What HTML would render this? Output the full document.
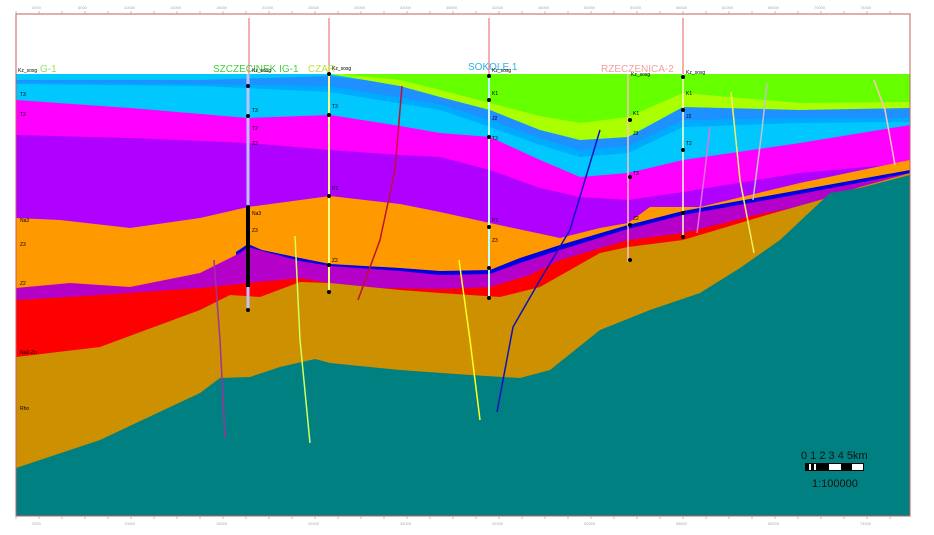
<!DOCTYPE html>
<html><head><meta charset="utf-8"><style>
html,body{margin:0;padding:0;background:#fff;}
svg{display:block;font-family:"Liberation Sans",sans-serif;}
</style></head><body>
<svg width="934" height="535" viewBox="0 0 934 535" xmlns="http://www.w3.org/2000/svg">
<rect width="934" height="535" fill="#fff"/>
<defs><clipPath id="c"><rect x="16" y="14" width="894" height="502"/></clipPath></defs>
<g clip-path="url(#c)">
<polygon fill="#00c8ff" points="16,74 910,74 910,516 16,516"/>
<!-- dark blue band -->
<polygon fill="#1e90ff" points="330,76 400,84 440,90 490,103 540,115 580,123 628,117 683,93 800,103 910,102 910,516 16,516 16,80 200,80"/>
<polygon fill="#00aaff" points="16,82 200,84 330,86 440,104 490,120 540,138 580,150 628,146 683,120 800,118 910,118 910,516 16,516"/>
<polygon fill="#00c8ff" points="16,84 200,86 330,92 440,110 490,127 540,145 580,157 628,153 683,127 800,123 910,122 910,516 16,516"/>
<!-- light green then green -->
<polygon fill="#aaff00" points="330,74 910,74 910,108 800,110 683,107 628,137 580,140 540,130 490,110 440,97 400,86"/>
<polygon fill="#66ff00" points="340,74 910,74 910,102 800,103 683,93 628,117 580,123 540,116 490,103 440,90 400,80"/>
<!-- magenta -->
<polygon fill="#ff00ff" points="16,100 130,108 248,118 330,115 400,126 440,133 490,137 540,160 580,177 628,173 683,160 800,143 910,125 910,516 16,516"/>
<!-- purple -->
<polygon fill="#b000ff" points="16,135 130,138 248,143 330,150 400,155 440,157 490,170 540,188 580,197 628,200 683,192 800,173 910,163 910,516 16,516"/>
<!-- orange -->
<polygon fill="#ff9900" points="16,218 60,220 130,228 200,218 248,207 330,196 400,204 440,212 490,223 560,238 600,228 628,223 650,207 700,207 800,183 910,160 910,516 16,516"/>
<!-- blue line -->
<polygon fill="#0000e0" points="236,252 248,244 262,250 300,258 330,264 400,268 440,271 490,270 520,258 560,245 628,225 683,211 800,190 910,170 910,516 236,516"/>
<!-- purple lower -->
<polygon fill="#b400c8" points="16,288 70,283 130,287 200,273 240,253 248,247 270,253 300,261 330,266 400,271 440,275 490,274 520,263 560,250 628,229 683,215 800,194 910,173 910,516 16,516"/>
<!-- red -->
<polygon fill="#ff0000" points="16,300 100,295 200,288 248,283 300,278 330,283 380,288 440,289 490,287 530,275 560,260 628,240 683,233 760,214 800,207 850,192 910,175 910,516 16,516"/>
<!-- ochre -->
<polygon fill="#cc9000" points="16,357 100,347 200,310 230,295 260,297 300,282 330,283 400,290 440,293 500,297 540,287 600,253 628,247 683,240 760,217 820,200 860,187 910,173 910,516 16,516"/>
<!-- teal -->
<polygon fill="#008080" points="16,468 100,440 200,393 220,378 250,377 280,367 315,359 330,363 400,370 470,375 520,378 550,370 600,330 650,310 700,293 740,268 780,240 830,193 860,188 910,175 910,516 16,516"/>
<!-- faults -->
<polyline fill="none" stroke="#c01030" stroke-width="1.5" points="358,300 380,240 395,170 402,86"/>
<polyline fill="none" stroke="#1010c0" stroke-width="1.5" points="497,412 513,327 540,280 570,230 600,130"/>
<polyline fill="none" stroke="#ffff20" stroke-width="1.5" points="480,420 470,340 459,260"/>
<polyline fill="none" stroke="#d0ff60" stroke-width="1.5" points="310,443 300,340 295,236"/>
<polyline fill="none" stroke="#a030a0" stroke-width="1.5" points="225,438 220,340 214,260"/>
<polyline fill="none" stroke="#f0f060" stroke-width="1.5" points="754,253 740,180 731,92"/>
<polyline fill="none" stroke="#c0c0d0" stroke-width="1.5" points="753,200 762,130 767,83"/>
<polyline fill="none" stroke="#e070e0" stroke-width="1.5" points="697,233 705,170 710,127"/>
<polyline fill="none" stroke="#ffc0c0" stroke-width="1.5" points="895,165 885,110 874,80"/>
</g>
<!-- wells -->
<g stroke-width="1">
<line x1="249" y1="18" x2="249" y2="74" stroke="#e06060"/>
<line x1="248" y1="74" x2="248" y2="310" stroke="#c0c0ff" stroke-width="3"/>
<line x1="329" y1="18" x2="329" y2="74" stroke="#e06060"/>
<line x1="329" y1="74" x2="329" y2="292" stroke="#ffff80" stroke-width="2"/>
<line x1="489" y1="18" x2="489" y2="74" stroke="#e06060"/>
<line x1="489" y1="74" x2="489" y2="300" stroke="#c0ffff" stroke-width="2"/>
<line x1="628" y1="74" x2="628" y2="262" stroke="#ffc0c0" stroke-width="1.5"/>
<line x1="683" y1="18" x2="683" y2="74" stroke="#e06060"/>
<line x1="683" y1="74" x2="683" y2="237" stroke="#ffffc0" stroke-width="1.5"/>
</g>
<g fill="#000">
<circle cx="248" cy="86" r="2"/><circle cx="248" cy="116" r="2"/><circle cx="248" cy="207" r="2"/><circle cx="248" cy="245" r="2"/><circle cx="248" cy="310" r="2"/>
<circle cx="329" cy="74" r="2"/><circle cx="329" cy="115" r="2"/><circle cx="329" cy="196" r="2"/><circle cx="329" cy="265" r="2"/><circle cx="329" cy="292" r="2"/>
<circle cx="489" cy="76" r="2"/><circle cx="489" cy="100" r="2"/><circle cx="489" cy="137" r="2"/><circle cx="489" cy="227" r="2"/><circle cx="489" cy="268" r="2"/><circle cx="489" cy="298" r="2"/>
<circle cx="630" cy="120" r="2"/><circle cx="630" cy="177" r="2"/><circle cx="630" cy="225" r="2"/><circle cx="630" cy="260" r="2"/>
<circle cx="683" cy="77" r="2"/><circle cx="683" cy="110" r="2"/><circle cx="683" cy="150" r="2"/><circle cx="683" cy="213" r="2"/><circle cx="683" cy="237" r="2"/>
<rect x="246" y="207" width="4" height="80"/>
</g>
<g font-size="10">
<text x="213" y="72" fill="#40d040">SZCZECINEK IG-1</text>
<text x="308" y="72" fill="#c0e040">CZAR</text>
<text x="468" y="70" fill="#30b0e0">SOKOLE 1</text>
<text x="601" y="72" fill="#f0a0a0">RZECZENICA-2</text>
<text x="40" y="72" fill="#90e060">G-1</text>
</g>
<g font-size="5" fill="#000">
<text x="18" y="72">Kz_sosg</text><text x="252" y="72">Kz_sosg</text><text x="332" y="70">Kz_sosg</text><text x="492" y="72">Kz_sosg</text><text x="631" y="76">Kz_sosg</text><text x="686" y="74">Kz_sosg</text>
<text x="20" y="96">T3</text><text x="20" y="116">T2</text><text x="20" y="222">Na3</text><text x="20" y="246">Z3</text><text x="20" y="285">Z2</text><text x="20" y="354">Na2-Zn</text><text x="20" y="410">Rho</text>
<text x="252" y="112">T3</text><text x="252" y="130">T2</text><text x="252" y="145">Z3</text><text x="252" y="215">Na3</text><text x="252" y="232">Z3</text>
<text x="332" y="108">T3</text><text x="332" y="190">P2</text><text x="332" y="262">Z2</text>
<text x="492" y="95">K1</text><text x="492" y="120">J2</text><text x="492" y="140">T3</text><text x="492" y="222">P2</text><text x="492" y="242">Z3</text>
<text x="633" y="115">K1</text><text x="633" y="135">J3</text><text x="633" y="175">T3</text><text x="633" y="220">Z2</text>
<text x="686" y="95">K1</text><text x="686" y="118">J2</text><text x="686" y="145">T2</text>
</g>
<rect x="16" y="14" width="894" height="502" fill="none" stroke="#c06060" stroke-width="1"/>
<g stroke="#999" stroke-width="0.6">
<path d="M16,14v-3M39,14v-3M62,14v-3M85,14v-3M108,14v-3M131,14v-3M154,14v-3M177,14v-3M200,14v-3M223,14v-3M246,14v-3M269,14v-3M292,14v-3M315,14v-3M338,14v-3M361,14v-3M384,14v-3M407,14v-3M430,14v-3M453,14v-3M476,14v-3M499,14v-3M522,14v-3M545,14v-3M568,14v-3M591,14v-3M614,14v-3M637,14v-3M660,14v-3M683,14v-3M706,14v-3M729,14v-3M752,14v-3M775,14v-3M798,14v-3M821,14v-3M844,14v-3M867,14v-3M890,14v-3"/>
<path d="M16,516v3M39,516v3M62,516v3M85,516v3M108,516v3M131,516v3M154,516v3M177,516v3M200,516v3M223,516v3M246,516v3M269,516v3M292,516v3M315,516v3M338,516v3M361,516v3M384,516v3M407,516v3M430,516v3M453,516v3M476,516v3M499,516v3M522,516v3M545,516v3M568,516v3M591,516v3M614,516v3M637,516v3M660,516v3M683,516v3M706,516v3M729,516v3M752,516v3M775,516v3M798,516v3M821,516v3M844,516v3M867,516v3M890,516v3"/>
</g>
<g font-size="4" fill="#aaa">
<text x="32" y="9">2000</text><text x="78" y="9">6000</text><text x="124" y="9">10000</text><text x="170" y="9">14000</text><text x="216" y="9">18000</text><text x="262" y="9">22000</text><text x="308" y="9">26000</text><text x="354" y="9">30000</text><text x="400" y="9">34000</text><text x="446" y="9">38000</text><text x="492" y="9">42000</text><text x="538" y="9">46000</text><text x="584" y="9">50000</text><text x="630" y="9">54000</text><text x="676" y="9">58000</text><text x="722" y="9">62000</text><text x="768" y="9">66000</text><text x="814" y="9">70000</text><text x="860" y="9">74000</text>
<text x="32" y="525">2000</text><text x="124" y="525">10000</text><text x="216" y="525">18000</text><text x="308" y="525">26000</text><text x="400" y="525">34000</text><text x="492" y="525">42000</text><text x="584" y="525">50000</text><text x="676" y="525">58000</text><text x="768" y="525">66000</text><text x="860" y="525">74000</text>
</g>
<g font-size="11" fill="#111">
<text x="801" y="459">0 1 2 3 4 5km</text>
<rect x="805" y="463" width="59" height="8" fill="#000"/>
<rect x="809" y="464" width="2" height="6" fill="#fff"/>
<rect x="814" y="464" width="2" height="6" fill="#fff"/>
<rect x="829" y="464" width="12" height="6" fill="#fff"/>
<rect x="852" y="464" width="11" height="6" fill="#fff"/>
<text x="812" y="487">1:100000</text>
</g>
</svg>
</body></html>
